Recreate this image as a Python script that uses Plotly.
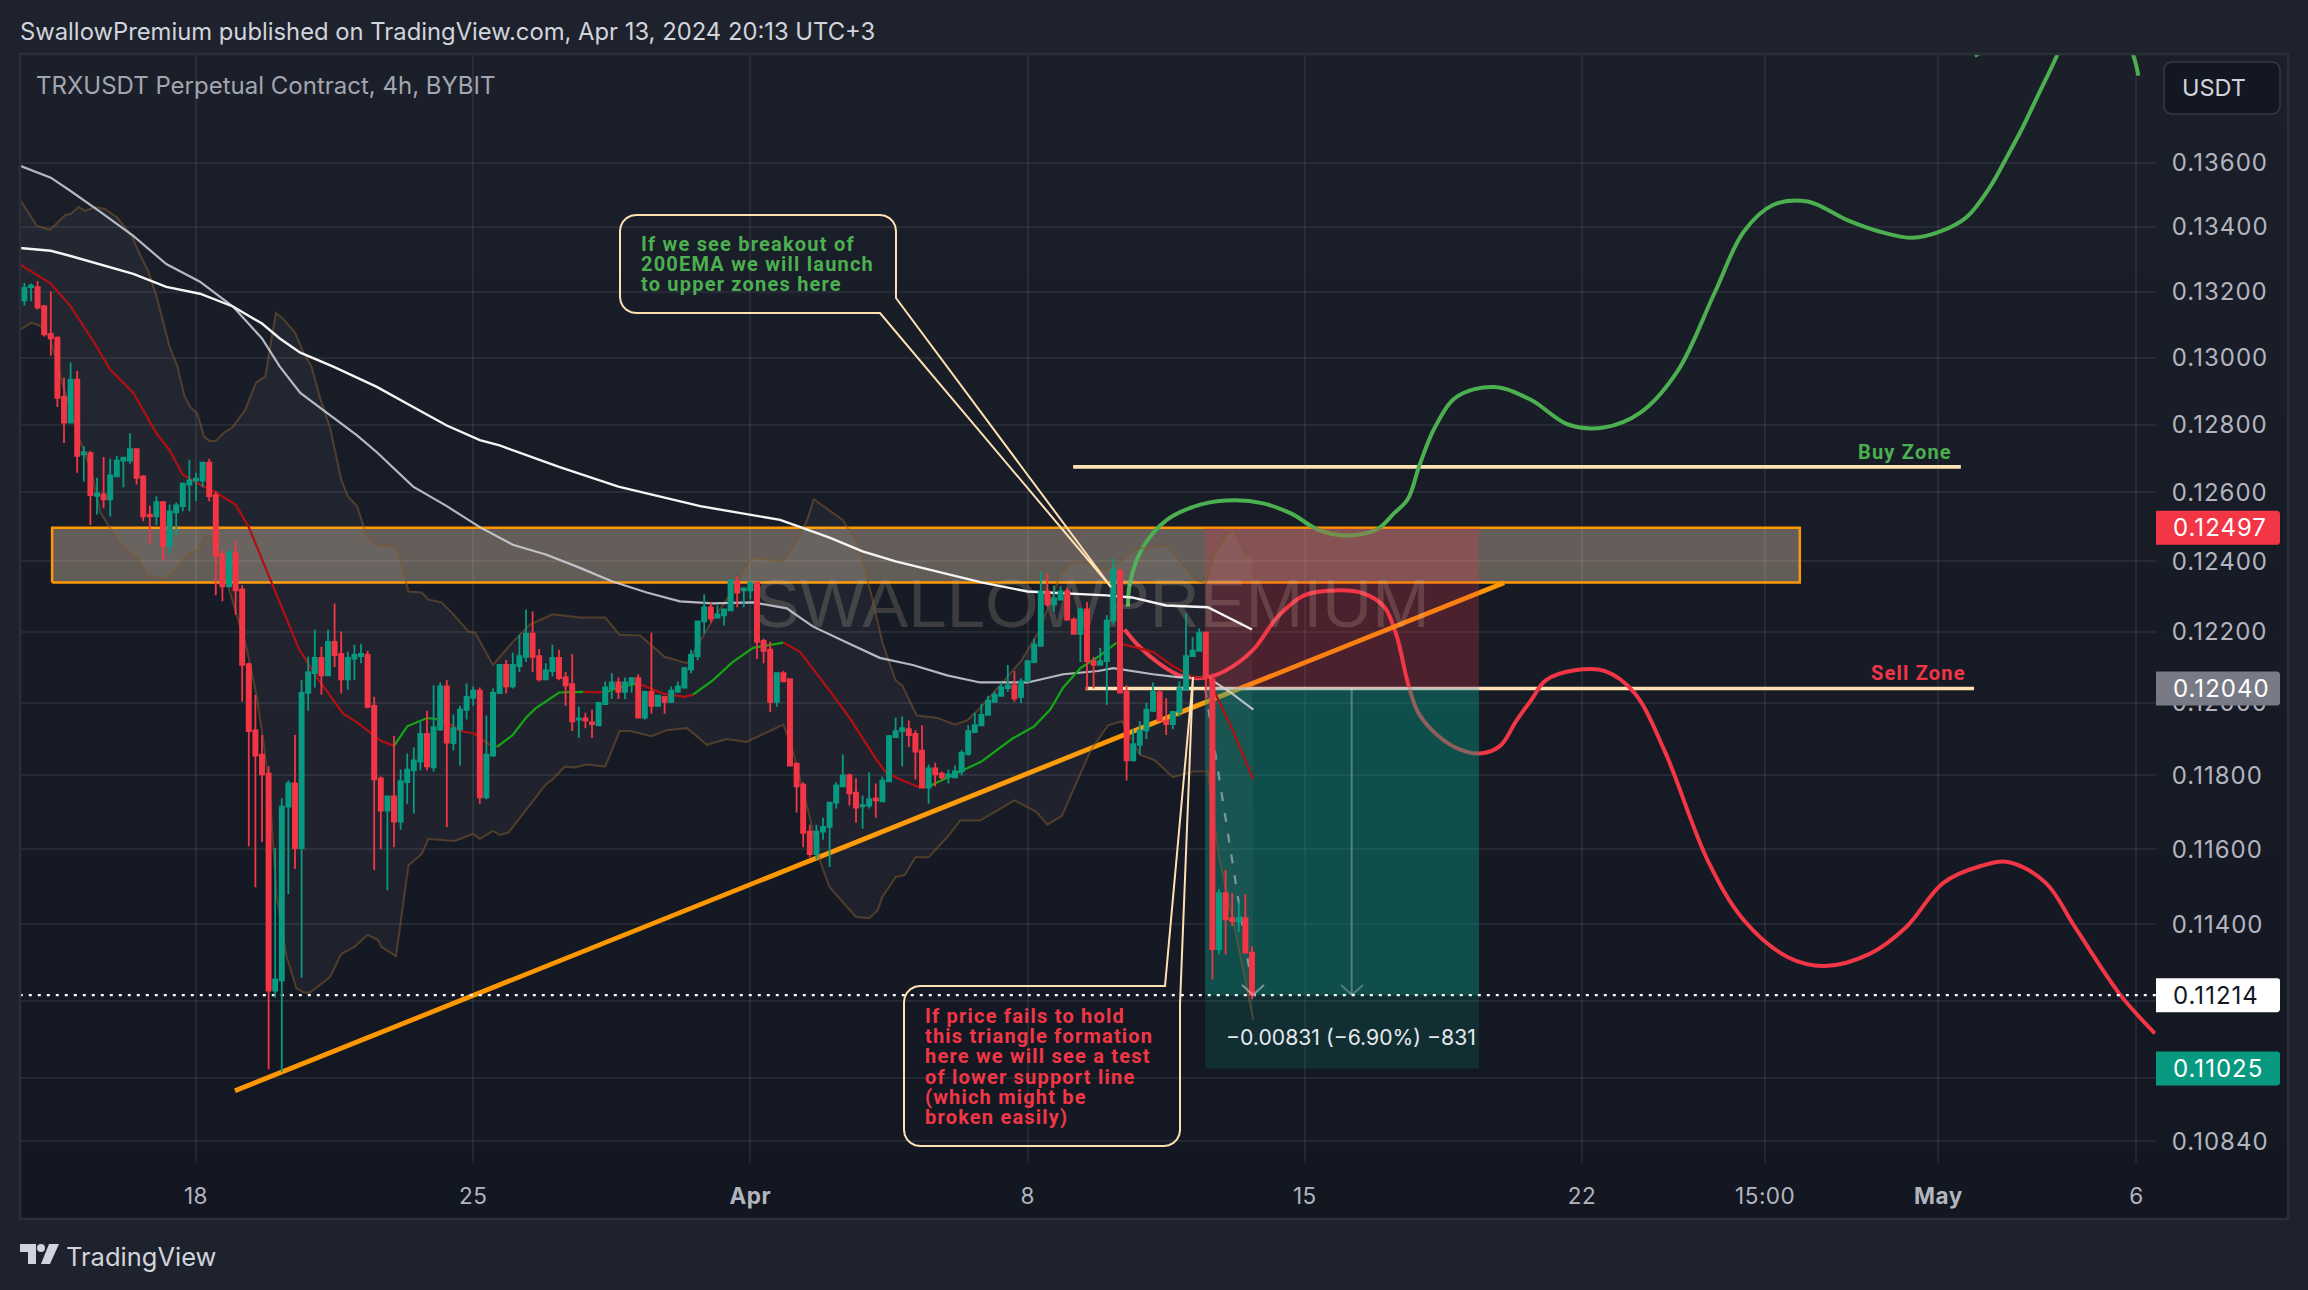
import numpy as np
import pandas as pd
import plotly.graph_objects as go

W, H = 2308, 1290
PANE_L, PANE_R, PANE_T, PANE_B = 20, 2156, 54, 1163

# 4h candles, Mar 13 16:00 -> Apr 13 16:00
first_bar = pd.Timestamp("2024-03-13 16:00")
times = pd.date_range(first_bar, periods=187, freq="4h")

opens = [
    .13174, .13214, .13214, .13155, .13072, .13060, .12882, .12806, .12934, .12712,
    .12715, .12590, .12594, .12580, .12647, .12693, .12693, .12727, .12647, .12535,
    .12530, .12572, .12446, .12542, .12560, .12623, .12635, .12635, .12687, .12592,
    .12420, .12329, .12423, .12320, .12108, .11924, .11857, .11805, .11226, .11252,
    .11715, .11778, .11603, .12028, .12083, .12126, .12077, .12171, .12137, .12066,
    .12124, .12131, .12134, .11992, .11792, .11704, .11743, .11674, .11782, .11814,
    .11838, .11914, .11822, .11927, .12046, .11889, .11927, .11981, .12014, .12034,
    .11740, .11854, .12027, .12106, .12046, .12103, .12129, .12194, .12131, .12066,
    .12089, .12126, .12071, .12052, .11954, .11957, .11946, .11938, .11997, .12040,
    .12057, .12031, .12054, .12069, .11959, .12031, .11992, .12017, .12003, .12031,
    .12043, .12094, .12131, .12229, .12269, .12240, .12246, .12260, .12343, .12317,
    .12317, .12340, .12174, .12149, .12003, .12083, .12066, .11832, .11775, .11647,
    .11587, .11647, .11660, .11726, .11770, .11800, .11753, .11716, .11718, .11737,
    .11729, .11784, .11905, .11922, .11927, .11914, .11868, .11767, .11819, .11805,
    .11797, .11795, .11811, .11859, .11919, .11938, .11967, .12003, .12020, .12041,
    .12049, .12017, .12060, .12114, .12160, .12314, .12277, .12291, .12314, .12234,
    .12194, .12263, .12117, .12106, .12117, .12231, .12374, .12031, .11841, .11884,
    .11924, .11978, .12029, .11951, .11941, .11975, .12037, .12131, .12146, .12197,
    .12066, .11334, .11482, .11416, .11408, .11416, .11325,
]
highs = [
    .13228, .13225, .13233, .13160, .13200, .13064, .12940, .12985, .12960, .12736,
    .12722, .12643, .12704, .12699, .12707, .12704, .12774, .12730, .12650, .12562,
    .12589, .12575, .12565, .12571, .12629, .12696, .12658, .12690, .12699, .12603,
    .12432, .12435, .12460, .12332, .12112, .12023, .11911, .11825, .11603, .11737,
    .11786, .11911, .12063, .12129, .12206, .12157, .12206, .12280, .12200, .12143,
    .12163, .12166, .12146, .12017, .11797, .11745, .11908, .11816, .11860, .11877,
    .11946, .11978, .12049, .12057, .12063, .11968, .11992, .12054, .12046, .12043,
    .11965, .12040, .12109, .12120, .12140, .12191, .12263, .12257, .12151, .12111,
    .12163, .12149, .12086, .12137, .11989, .11973, .11981, .12003, .12060, .12083,
    .12071, .12071, .12071, .12080, .12034, .12197, .12023, .12020, .12046, .12060,
    .12100, .12149, .12231, .12306, .12283, .12274, .12263, .12349, .12357, .12323,
    .12340, .12340, .12180, .12171, .12083, .12089, .12069, .11832, .11781, .11666,
    .11666, .11685, .11726, .11781, .11857, .11805, .11792, .11745, .11808, .11778,
    .11797, .11911, .11959, .11962, .11951, .11924, .11938, .11830, .11835, .11811,
    .11816, .11827, .11870, .11938, .11973, .11997, .12020, .12031, .12057, .12106,
    .12089, .12069, .12120, .12180, .12370, .12366, .12331, .12329, .12323, .12240,
    .12266, .12284, .12129, .12154, .12246, .12409, .12377, .12049, .11927, .11949,
    .12000, .12057, .12037, .12013, .11978, .12060, .12251, .12184, .12209, .12200,
    .12083, .11493, .11544, .11482, .11459, .11480, .11342,
]
lows = [
    .13158, .13171, .13146, .13064, .13006, .12852, .12745, .12804, .12658, .12632,
    .12505, .12536, .12554, .12530, .12645, .12615, .12684, .12623, .12516, .12452,
    .12505, .12403, .12423, .12475, .12545, .12545, .12574, .12615, .12574, .12303,
    .12286, .12326, .12248, .12003, .11608, .11498, .11619, .11023, .11208, .11015,
    .11480, .11547, .11260, .11978, .12043, .12023, .12075, .12100, .12026, .12037,
    .12063, .12111, .11985, .11544, .11600, .11490, .11605, .11652, .11723, .11696,
    .11814, .11814, .11811, .11922, .11660, .11868, .11827, .11954, .11992, .11723,
    .11735, .11851, .12026, .12026, .12040, .12086, .12114, .12086, .12060, .12064,
    .12074, .12063, .11992, .11922, .11903, .11930, .11903, .11936, .11995, .12011,
    .12011, .12011, .12029, .11957, .11954, .11970, .11989, .11970, .12000, .12029,
    .12040, .12083, .12120, .12194, .12226, .12237, .12217, .12259, .12269, .12269,
    .12291, .12123, .12111, .11975, .11989, .12058, .11825, .11699, .11605, .11578,
    .11573, .11625, .11552, .11710, .11770, .11718, .11671, .11655, .11710, .11685,
    .11729, .11782, .11903, .11825, .11878, .11789, .11765, .11723, .11770, .11786,
    .11778, .11792, .11800, .11854, .11918, .11935, .11965, .12000, .12017, .12031,
    .12003, .12000, .12057, .12111, .12160, .12271, .12257, .12289, .12231, .12191,
    .12114, .12037, .12040, .12105, .11995, .12220, .12027, .11786, .11838, .11857,
    .11900, .11975, .11949, .11911, .11927, .11962, .12037, .12129, .12143, .12011,
    .11255, .11321, .11321, .11395, .11379, .11324, .11203,
]
closes = [
    .13212, .13219, .13152, .13070, .13058, .12879, .12806, .12934, .12707, .12718,
    .12592, .12597, .12580, .12650, .12693, .12702, .12727, .12643, .12530, .12530,
    .12572, .12446, .12545, .12562, .12626, .12635, .12640, .12687, .12589, .12417,
    .12329, .12423, .12317, .12106, .11922, .11854, .11803, .11226, .11255, .11715,
    .11778, .11603, .12028, .12086, .12126, .12077, .12171, .12134, .12066, .12126,
    .12134, .12137, .11989, .11789, .11704, .11743, .11674, .11784, .11816, .11841,
    .11914, .11825, .11933, .12046, .11890, .11930, .11981, .12017, .12034, .11740,
    .11857, .12028, .12106, .12046, .12106, .12131, .12194, .12129, .12066, .12091,
    .12126, .12069, .12049, .11949, .11957, .11951, .11941, .12000, .12043, .12057,
    .12031, .12057, .12069, .11959, .12031, .11992, .12020, .12003, .12034, .12046,
    .12097, .12134, .12229, .12269, .12237, .12249, .12263, .12346, .12311, .12323,
    .12340, .12171, .12146, .12003, .12083, .12060, .11827, .11770, .11644, .11587,
    .11647, .11660, .11726, .11773, .11800, .11751, .11712, .11719, .11735, .11732,
    .11786, .11908, .11922, .11930, .11911, .11865, .11767, .11819, .11803, .11795,
    .11803, .11811, .11862, .11922, .11938, .11967, .12006, .12023, .12043, .12049,
    .12013, .12060, .12117, .12163, .12314, .12277, .12294, .12314, .12234, .12194,
    .12263, .12117, .12106, .12117, .12231, .12377, .12029, .11841, .11886, .11924,
    .11981, .12031, .11951, .11941, .11975, .12041, .12131, .12146, .12197, .12071,
    .11334, .11482, .11413, .11408, .11416, .11325, .11214,
]

# indicators, read at bar positions (bar number, price)
ema_slow_bar = [-1, 4, 7, 11.5, 16.5, 21.5, 26.6, 31.6, 36, 38.7, 41.8, 46.8, 53.4, 58.9, 64, 69, 72, 81, 90, 102.4,
                114.5, 122, 127, 132, 137, 145, 152, 157.4, 164, 167.8, 173, 179.3, 183, 186]
ema_slow = [.13335, .13326, .1331, .13285, .13255, .13215, .13194, .13155, .13103, .13058, .13015, .12973, .12912, .12852, .12797, .12754, .12738, .12675, .12617, .1256,
            .1252, .12469, .12429, .124, .12377, .1234, .12314, .12309, .12303, .12297, .12274, .12269, .12234, .12206]

ema_mid_bar = [-1, 4, 7, 11.5, 16.5, 21.5, 26.6, 31.6, 36, 38.7, 41.8, 46.8, 50.4, 53.4, 58.9, 64, 69, 74, 79, 84, 89, 94.3, 99.3, 104.3, 110.4,
               115.5, 119.5, 124.6, 129.6, 134.6, 139.8, 144.8, 152, 157.4, 162.7, 165, 171, 175, 179.3, 183, 186.2]
ema_mid = [.13594, .13554, .13512, .13447, .13372, .13285, .13231, .13155, .13058, .12973, .12894, .1282, .12768, .12718, .12617, .1256, .12499, .12448, .1242, .12383, .12343, .12311, .12286, .1228, .12283,
           .12266, .12214, .12169, .12126, .12106, .12077, .12057, .12057, .1208, .12089, .12097, .1208, .12071, .12071, .12026, .11981]

# fast EMA, coloured by direction, one run per colour
fast_runs = [
    ("red", [-1, 4, 7, 10.5, 13, 16.5, 20, 22, 24, 26.6, 29, 32, 34, 36, 38.7, 41.6, 44.3, 48.3, 50.4, 54, 56],
     [.13288, .13225, .13155, .13048, .12964, .12894, .12774, .12724, .12652, .12623, .126, .12565, .12499, .12406, .1228, .12151, .12071, .1197, .11946, .11895, .11881]),
    ("green", [56, 58, 61, 62.5], [.11881, .11935, .11958, .11955]),
    ("red", [62.5, 64, 66, 68, 70.5, 71.6], [.11955, .11946, .11922, .11916, .11884, .11878]),
    ("green", [71.6, 74, 76, 77.4, 81, 84.7], [.11878, .11911, .11959, .11984, .12029, .12031]),
    ("red", [84.7, 88], [.12031, .12029]),
    ("green", [88, 90, 93], [.12029, .12043, .12054]),
    ("red", [93, 96.8, 100, 101.3], [.12054, .12026, .12017, .12023]),
    ("green", [101.3, 104.3, 107.3, 110.4, 115], [.12023, .12063, .12114, .12154, .12169]),
    ("red", [115, 117.5, 122, 125, 129, 130.4, 132, 135.2, 137], [.12169, .12143, .12034, .11959, .11846, .11811, .11795, .1177, .1177]),
    ("green", [137, 145, 149.6, 153, 155.4, 157.4, 160, 162.7, 165.5], [.1177, .11838, .119, .11935, .11981, .12043, .12097, .12129, .12169]),
    ("red", [165.5, 171, 174, 177.2, 179.3, 183, 186.2], [.12169, .12143, .12103, .12071, .12071, .11927, .11789]),
]

bb_upper_bar = [-1, 1.9, 3.9, 6.2, 7, 8.2, 9.2, 10.7, 12.2, 14, 16.3, 17.3, 18.8, 20, 22, 23.2, 24.2, 25.1, 26.2, 27.2, 28.1, 29, 30.3, 31.4, 33.4, 35.1, 36.5, 38.1,
                39.2, 41, 42.3, 43.5, 44.8, 46.3, 48, 49, 50.4, 51.9, 53.4, 56.4, 58.2, 60.2, 61.2, 63.2, 65, 67.3, 68.3, 71, 74, 76.6, 80, 84.2, 88, 90.2, 93.3, 97, 100.4,
                104.3, 106.4, 110.2, 115, 117, 118.6, 119.6, 124, 126.3, 128.4, 130, 132, 133, 135.2, 138.2, 141, 142.8, 144.8, 151, 153.7, 157, 158.7, 160.5, 164, 166.3,
                168.4, 173, 175, 177.2, 179, 180.4, 182, 183.3, 185, 186]
bb_upper = [.13496, .13403, .13391, .13437, .1344, .13462, .1345, .13462, .13456, .1343, .13372, .13323, .13262, .13188, .13033, .12973, .12888, .12853, .12832, .12765, .12751, .12751, .12777, .12789, .12841, .12925, .12943, .13135,
            .13118, .13076, .13015, .12973, .12879, .12792, .12638, .12589, .1256, .12472, .12446, .12443, .12314, .12311, .12291, .12283, .12249, .122, .12197, .12106, .12171, .1222, .12249, .1224, .1224, .12191, .12189, .12129, .12111,
            .12234, .12291, .12411, .124, .12457, .1252, .1258, .1252, .12449, .123, .12169, .12063, .12049, .11965, .11959, .1194, .11951, .11986, .12117, .122, .12363, .12394, .124, .12374, .12403,
            .12435, .12446, .12403, .12349, .12337, .12423, .12475, .12489, .12417, .12426]

bb_lower_bar = [-1, 1.1, 2.6, 3.9, 5.9, 8.4, 10.2, 11.5, 13, 15, 17, 18.8, 20, 21.2, 23.3, 24.3, 26.4, 27.2, 28.1, 29.1, 33.7, 35.2, 36.2, 37.2, 38.2, 39.7, 41.2, 42.3, 43.3, 46.3, 48, 50, 52, 53.6, 54.1, 56.3, 58.2, 60.2, 61.2,
                65.2, 68, 69, 71, 72, 73.3, 75.6, 79, 80, 81.9, 83.4, 85.2, 88, 90.2, 91.8, 95, 97.3, 100.4, 103.4, 106.4, 109.4, 115, 116.5, 118.7, 120.5, 122, 126, 128, 129.3, 130, 132, 133.4, 135, 137, 139.8, 141.8, 144.8,
                150, 153.3, 155, 157.2, 159, 161.6, 164.2, 166.3, 169, 171.3, 174, 177.2, 179.3, 181, 183.4, 186.2]
bb_lower = [.1308, .13106, .13094, .13058, .12912, .12754, .12658, .12542, .12495, .1244, .12412, .12357, .12357, .12349, .12383, .12414, .12435, .12475, .12475, .12443, .1215, .12017, .11895, .11748, .11477, .11316, .11232, .11221, .11221, .11261, .11321, .1134, .11372, .11358, .1134, .11316, .11557, .11587, .11627,
            .11622, .11641, .11627, .11649, .11638, .11644, .11698, .11775, .11789, .11824, .11822, .1183, .11824, .11922, .11922, .11908, .11924, .1193, .11884, .119, .11892, .1194, .11862, .11707, .1157, .11498, .11419, .11416, .11437, .11472, .11525, .11531, .11578, .11578, .11632, .11677, .11677,
            .11732, .11701, .11666, .1169, .11764, .1187, .11938, .11949, .11857, .11841, .11795, .11811, .11811, .11578, .11387, .11149]

# forecast curves drawn by the author
up_path_bar = [167.2, 167.5, 169.3, 173.1, 178.3, 183.4, 187.7, 191.9, 196, 200.2, 204.9, 207.5, 209.6, 211.4, 213.7, 217, 222.7, 228.3, 233.9, 239.3, 244.9, 250.5, 256.1, 260.5, 265, 270.2, 276.1,
               281.2, 286.1, 290.2, 294.3, 297.8, 300.3, 302.8, 305, 308, 310.7, 316, 319.5, 320.3]
up_path = [.12271, .12337, .12435, .1252, .12565, .12577, .12568, .12539, .12492, .12475, .12492, .12539, .1258, .12681, .12791, .12882, .12912, .12873, .128, .12791, .12836, .1296, .13197, .13385, .13469, .13479, .13422,
           .13385, .13366, .13385, .13431, .13524, .13616, .13714, .13811, .13945, .14091, .14107, .13945, .13878]
up_stub_bar = [295.5, 296.3]
up_stub = [.13942, .13952]
down_path_bar = [166.7, 168.8, 172, 175, 178.7, 181.9, 186.2, 189.8, 193.9, 198.6, 202.8, 206, 207.9, 209.6, 211.1, 213.3, 216.9, 220.5, 223.6, 226, 228.3, 230.5, 234.9, 239.5, 243.9, 248.5, 255.1, 260.5, 267.2, 272.8, 279.5, 285.1, 290.7, 296.3, 300.7, 306.3, 310.7, 317.5, 322.8]
down_path = [.12206, .1216, .12109, .12077, .1207, .12089, .12149, .1224, .12303, .12317, .12309, .12271, .12189, .12057, .11976, .11924, .11876, .1186, .11881, .11949, .12008, .12063, .12091, .12089, .12029, .11868, .11568, .11411, .11313, .1129, .11321, .11392, .11509, .11554, .11565, .11509, .11392, .11216, .11115]

zone_bars = [4.2, 269]
zone_prices = [.1234, .12497]
trend_bars = [31.9, 224.2]
trend_prices = [.10968, .12339]
buy_line_bars = [158.9, 293.4]
buy_line_price = .12675
sell_line_bars = [160.8, 295.4]
sell_line_price = .1204

pos_bars = [178.9, 220.4]
entry_price = .1204
stop_price = .12497
target_price = .11025
last_price = .11214

price_ticks = [.136, .134, .132, .13, .128, .126, .124, .122, .12, .118, .116, .114, .112, .11, .1084]
hidden_ticks = [.112, .11]  # covered by the price badges in the original
date_ticks = ["2024-03-18", "2024-03-25", "2024-04-01", "2024-04-08", "2024-04-15", "2024-04-22", "2024-04-26 15:00", "2024-05-01", "2024-05-06"]
date_labels = ["18", "25", "<b>Apr</b>", "8", "15", "22", "15:00", "<b>May</b>", "6"]

FONT = "Inter"
COL_UP, COL_DOWN = "#089981", "#F23645"
CREAM = "#FFE0B2"
ORANGE = "#FF9800"
AXIS_TEXT = "#b2b5be"


def bar_time(n):
    return first_bar + pd.to_timedelta(np.asarray(n, dtype=float) * 4, unit="h")


def px(x):
    return x / W


def py(y):
    return 1 - y / H


def price_y(p):
    # pixel row of a price on the log scale
    top, bottom = np.log10(.13948), np.log10(.10786)
    return PANE_T + (top - np.log10(p)) / (top - bottom) * (PANE_B - PANE_T)


def path(points, close=False):
    s = "M " + " L ".join(f"{px(a):.5f} {py(b):.5f}" for a, b in points)
    return s + (" Z" if close else "")


def corners(x0, y0, x1, y1, r):
    # four arcs: top right, bottom right, bottom left, top left
    arcs = []
    for cx, cy, a0 in [(x1 - r, y0 + r, -90), (x1 - r, y1 - r, 0), (x0 + r, y1 - r, 90), (x0 + r, y0 + r, 180)]:
        arcs.append([(cx + r * np.cos(np.radians(a)), cy + r * np.sin(np.radians(a))) for a in np.linspace(a0, a0 + 90, 6)])
    return arcs


def spaced(text, gap):
    return f'<span style="letter-spacing:{gap}px">{text}</span>'


fig = go.Figure()


def add_line(bars, prices, color, width, axes=1, dash="solid", spline=False):
    fig.add_trace(go.Scatter(
        x=bar_time(bars), y=prices, mode="lines",
        line=dict(color=color, width=width, dash=dash, shape="spline" if spline else "linear", smoothing=1.0),
        hoverinfo="skip", showlegend=False,
        xaxis="x" if axes == 1 else f"x{axes}", yaxis="y" if axes == 1 else f"y{axes}",
    ))


def add_box(bars, prices, fill, line=None):
    a, b = bars
    lo, hi = prices
    fig.add_trace(go.Scatter(
        x=bar_time([a, b, b, a, a]), y=[lo, lo, hi, hi, lo], mode="lines", fill="toself", fillcolor=fill,
        line=dict(color=line or "rgba(0,0,0,0)", width=2.5),
        hoverinfo="skip", showlegend=False,
    ))


# lowest layer: zone, author drawings, position tool, watermark
add_box(zone_bars, zone_prices, "rgba(255,228,192,0.33)", line=ORANGE)
add_line(buy_line_bars, [buy_line_price] * 2, CREAM, 3.6)
add_line(sell_line_bars, [sell_line_price] * 2, CREAM, 3.6)
add_line(up_path_bar, up_path, "#4CAF50", 4, spline=True)
add_line(up_stub_bar, up_stub, "#4CAF50", 4)
add_line(down_path_bar, down_path, COL_DOWN, 4, spline=True)
add_line(trend_bars, trend_prices, ORANGE, 4.8)

add_box(pos_bars, [entry_price, stop_price], "rgba(242,54,69,0.24)")
add_box(pos_bars, [last_price, entry_price], "rgba(8,153,129,0.42)")
add_box(pos_bars, [target_price, last_price], "rgba(8,153,129,0.18)")
add_line(pos_bars, [entry_price] * 2, "rgba(190,195,200,0.8)", 2.5)
add_line([201.1, 201.1], [entry_price, last_price], "rgba(255,255,255,0.28)", 2)
fig.add_trace(go.Scatter(
    x=bar_time([110.5]), y=[.12262], mode="text", text=["SWALLOWPREMIUM"], textposition="middle right",
    textfont=dict(family="Liberation Sans", size=69, color="rgba(214,196,165,0.2)"),
    hoverinfo="skip", showlegend=False,
))

# middle layer: bands and averages
fig.add_trace(go.Scatter(x=bar_time(bb_upper_bar), y=bb_upper, mode="lines",
                         line=dict(color="rgba(125,90,45,0.55)", width=2),
                         hoverinfo="skip", showlegend=False, xaxis="x2", yaxis="y2"))
fig.add_trace(go.Scatter(x=bar_time(bb_lower_bar), y=bb_lower, mode="lines", fill="tonexty",
                         fillcolor="rgba(255,255,255,0.045)",
                         line=dict(color="rgba(125,90,45,0.55)", width=2),
                         hoverinfo="skip", showlegend=False, xaxis="x2", yaxis="y2"))
add_line(ema_mid_bar, ema_mid, "rgba(209,212,220,0.85)", 2.2, axes=2)
add_line(ema_slow_bar, ema_slow, "#f5f5f5", 2.4, axes=2)
for name, bars, prices in fast_runs:
    add_line(bars, prices, "#b30f12" if name == "red" else "#13a813", 2.2, axes=2)
add_line([178.9, 186.2], [entry_price, last_price], "rgba(205,208,215,0.55)", 2.2, axes=2, dash="9px,12px")
add_line([-0.7, 323], [last_price] * 2, "#ffffff", 2.4, axes=2, dash="3px,6px")

# top layer: candles
fig.add_trace(go.Candlestick(
    x=times, open=opens, high=highs, low=lows, close=closes,
    increasing=dict(line=dict(color=COL_UP, width=1.8), fillcolor=COL_UP),
    decreasing=dict(line=dict(color=COL_DOWN, width=1.8), fillcolor=COL_DOWN),
    whiskerwidth=0, hoverinfo="skip", showlegend=False, xaxis="x3", yaxis="y3",
))

shapes = []
# pane background, faint vertical gradient
n_bands = 16
band_edges = np.linspace(PANE_T, 1219, n_bands + 1)
for i in range(n_bands):
    t = i / (n_bands - 1)
    col = f"rgb({round(27 - 8 * t)},{round(31 - 8 * t)},{round(42 - 8 * t)})"
    shapes.append(dict(type="rect", xref="paper", yref="paper", layer="below",
                       x0=px(PANE_L), x1=px(2288), y0=py(band_edges[i]), y1=py(band_edges[i + 1]),
                       fillcolor=col, line=dict(width=0)))
shapes.append(dict(type="rect", xref="paper", yref="paper", layer="above",
                   x0=px(PANE_L), x1=px(2288), y0=py(PANE_T), y1=py(1219),
                   line=dict(color="#2a2e39", width=2.5)))

# callouts, box and tail as one outline
tr, br, bl, tl = corners(620, 215, 896, 313, 16)
shapes.append(dict(type="path", xref="paper", yref="paper", line=dict(color=CREAM, width=2),
                   path=path(tr + [(896, 298), (1111, 587), (880, 313)] + bl + tl, True)))
tr, br, bl, tl = corners(904, 986, 1180, 1146, 16)
shapes.append(dict(type="path", xref="paper", yref="paper", line=dict(color=CREAM, width=2),
                   path=path(tl + [(1165, 986), (1193, 677), (1180, 1004)] + br + bl, True)))

# arrow heads of the position tool
for cx, cy, col in [(1352, 995, "rgba(255,255,255,0.28)"), (1253, 995, "rgba(205,208,215,0.55)")]:
    shapes.append(dict(type="path", xref="paper", yref="paper",
                       path=path([(cx - 11, cy - 10), (cx, cy), (cx + 11, cy - 10)]), line=dict(color=col, width=2)))

# price scale badges
badges = [(.12497, COL_DOWN, "#ffffff"), (.1204, "#787b86", "#ffffff"), (last_price, "#ffffff", "#131722"), (target_price, COL_UP, "#ffffff")]
annotations = []
for value, bg, fg in badges:
    yc = price_y(value)
    tr, br, bl, tl = corners(2200, yc - 17, 2280, yc + 17, 3)
    pts = [(PANE_R, yc - 17)] + tr + br + [(PANE_R, yc + 17)]
    shapes.append(dict(type="path", xref="paper", yref="paper", layer="above", path=path(pts, True),
                       fillcolor=bg, line=dict(width=0)))
    annotations.append(dict(xref="paper", yref="y", x=px(2171), y=np.log10(value), xanchor="left", yanchor="middle",
                            text=spaced(f"{value:.5f}", 1), showarrow=False, font=dict(family=FONT, size=24, color=fg)))

# USDT button
tr, br, bl, tl = corners(2164, 62, 2280, 114, 8)
shapes.append(dict(type="path", xref="paper", yref="paper", layer="above", path=path(tr + br + bl + tl, True),
                   fillcolor="#131722", line=dict(color="#363a45", width=1.5)))

# TradingView mark
shapes.append(dict(type="path", xref="paper", yref="paper", layer="above",
                   path=path([(20, 1244), (36, 1244), (36, 1264), (28, 1264), (28, 1252), (20, 1252)], True),
                   fillcolor="#d1d4dc", line=dict(width=0)))
shapes.append(dict(type="circle", xref="paper", yref="paper", layer="above",
                   x0=px(37), x1=px(45), y0=py(1244), y1=py(1252), fillcolor="#d1d4dc", line=dict(width=0)))
shapes.append(dict(type="path", xref="paper", yref="paper", layer="above",
                   path=path([(49, 1244), (59, 1244), (50, 1264), (41, 1264)], True),
                   fillcolor="#d1d4dc", line=dict(width=0)))


def label(x, y, text, size, color, anchor="left", family=FONT):
    annotations.append(dict(xref="paper", yref="paper", x=px(x), y=py(y), xanchor=anchor, yanchor="middle",
                            text=text, showarrow=False, font=dict(family=family, size=size, color=color)))


def bold_note(x, y, text, color, anchor="left"):
    label(x, y, "<b>" + spaced(text, 1.2) + "</b>", 20, color, anchor=anchor, family="Roboto")


label(18, 31, "SwallowPremium published on TradingView.com, Apr 13, 2024 20:13 UTC+3", 23.8, "#d1d4dc")
label(34, 85, "TRXUSDT Perpetual Contract, 4h, BYBIT", 24, "#a3a6af")
label(2180, 88, "USDT", 23.5, "#d1d4dc")
label(64, 1256, "TradingView", 25.5, "#d1d4dc")
label(1351, 1037, "−0.00831 (−6.90%) −831", 21.2, "#e6e8ec", anchor="center")
bold_note(1905, 452, "Buy Zone", "#4CAF50", anchor="center")
bold_note(1918, 673, "Sell Zone", COL_DOWN, anchor="center")

top_lines = ["If we see breakout of", "200EMA we will launch", "to upper zones here"]
for i, line in enumerate(top_lines):
    bold_note(639, 244 + 20 * i, line, "#4CAF50")
low_lines = ["If price fails to hold", "this triangle formation", "here we will see a test", "of lower support line", "(which might be", "broken easily)"]
for i, line in enumerate(low_lines):
    bold_note(923, 1016 + 20.2 * i, line, COL_DOWN)

x_domain = [px(PANE_L), px(PANE_R)]
y_domain = [py(PANE_B), py(PANE_T)]
x_range = [bar_time(-0.667), bar_time(322.97)]
y_range = [np.log10(.10786), np.log10(.13948)]
grid = "rgba(240,243,250,0.07)"

overlay_x = dict(domain=x_domain, range=x_range, type="date", visible=False, overlaying="x", rangeslider=dict(visible=False))
overlay_y = dict(domain=y_domain, range=y_range, type="log", visible=False, overlaying="y")

fig.update_layout(
    width=W, height=H, margin=dict(l=0, r=0, t=0, b=0),
    paper_bgcolor="#1e222d", plot_bgcolor="rgba(0,0,0,0)",
    showlegend=False, boxgap=0.1, hovermode=False,
    xaxis=dict(domain=x_domain, range=x_range, type="date", tickmode="array", tickvals=date_ticks,
               ticktext=[spaced(t, 0.5) for t in date_labels],
               showgrid=True, gridcolor=grid, gridwidth=2, zeroline=False, showline=False, anchor="y",
               ticks="outside", ticklen=13, tickcolor="rgba(0,0,0,0)",
               tickfont=dict(family=FONT, size=22.5, color=AXIS_TEXT), rangeslider=dict(visible=False)),
    yaxis=dict(domain=y_domain, range=y_range, type="log", side="right", tickmode="array", tickvals=price_ticks,
               ticktext=["" if v in hidden_ticks else spaced(f"{v:.5f}", 1) for v in price_ticks],
               showgrid=True, gridcolor=grid, gridwidth=2, zeroline=False,
               showline=False, anchor="x", ticks="outside", ticklen=10, tickcolor="rgba(0,0,0,0)",
               tickfont=dict(family=FONT, size=24, color=AXIS_TEXT)),
    xaxis2={**overlay_x, "anchor": "y2"}, yaxis2={**overlay_y, "anchor": "x2"},
    xaxis3={**overlay_x, "anchor": "y3"}, yaxis3={**overlay_y, "anchor": "x3"},
    shapes=shapes, annotations=annotations,
)

fig.write_html("out.html", config={"displayModeBar": False}, post_script="document.body.style.margin='0';")
